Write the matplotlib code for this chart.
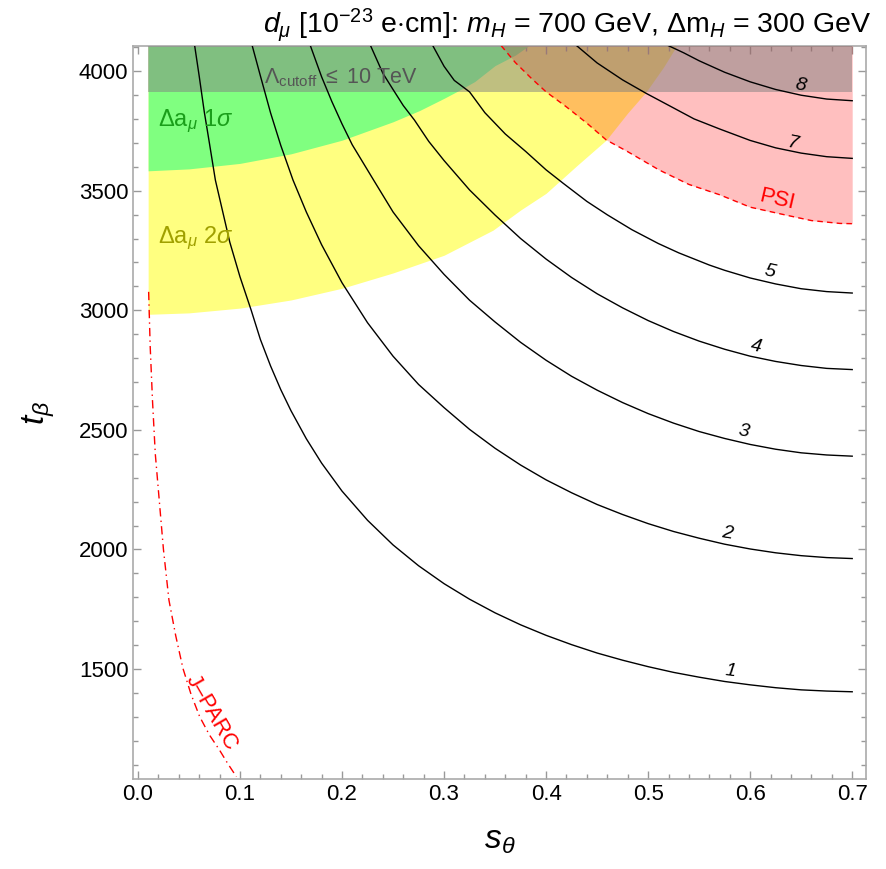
import matplotlib
matplotlib.use("Agg")
import matplotlib.pyplot as plt
from matplotlib.ticker import MultipleLocator

plt.rcParams['font.family'] = ['Liberation Sans', 'DejaVu Sans']
plt.rcParams['mathtext.fontset'] = 'custom'
plt.rcParams['mathtext.rm'] = 'Liberation Sans'
plt.rcParams['mathtext.it'] = 'Liberation Sans:italic'
plt.rcParams['mathtext.bf'] = 'Liberation Sans:bold'

# contour lines of d_mu: s_theta / t_beta
c1_s = [0.0556, 0.06, 0.065, 0.07, 0.0759, 0.082, 0.09, 0.10, 0.111, 0.12, 0.13, 0.14, 0.15, 0.165,
        0.18, 0.20, 0.225, 0.25, 0.275, 0.30, 0.325, 0.35, 0.375, 0.40, 0.425, 0.45, 0.475, 0.50,
        0.525, 0.55, 0.575, 0.60, 0.625, 0.65, 0.675, 0.70]
c1_t = [4106, 3980, 3830, 3700, 3544, 3432, 3285, 3140, 3000, 2878, 2767, 2668, 2580, 2463,
        2361, 2244, 2122, 2019, 1932, 1857, 1792, 1735, 1685, 1641, 1602, 1567, 1537, 1510,
        1486, 1466, 1448, 1434, 1422, 1413, 1408, 1405]
c2_s = [0.112, 0.12, 0.13, 0.14, 0.152, 0.165, 0.18, 0.20, 0.225, 0.25, 0.275, 0.30, 0.325, 0.35,
        0.375, 0.40, 0.425, 0.45, 0.475, 0.50, 0.525, 0.55, 0.575, 0.60, 0.625, 0.65, 0.675, 0.70]
c2_t = [4106, 3980, 3825, 3689, 3544, 3411, 3274, 3115, 2948, 2808, 2690, 2593, 2502, 2423,
        2353, 2291, 2237, 2188, 2146, 2108, 2075, 2047, 2022, 2002, 1986, 1974, 1966, 1962]
c3_s = [0.169, 0.18, 0.19, 0.20, 0.21, 0.231, 0.25, 0.275, 0.30, 0.325, 0.35, 0.375, 0.40, 0.425,
        0.45, 0.475, 0.50, 0.525, 0.55, 0.575, 0.60, 0.625, 0.65, 0.675, 0.70]
c3_t = [4106, 3976, 3873, 3779, 3692, 3544, 3411, 3270, 3150, 3042, 2951, 2866, 2791, 2724,
        2666, 2614, 2568, 2528, 2493, 2464, 2439, 2419, 2404, 2395, 2390]
c4_s = [0.228, 0.24, 0.25, 0.26, 0.271, 0.285, 0.30, 0.325, 0.35, 0.375, 0.40, 0.425, 0.45, 0.475,
        0.50, 0.525, 0.55, 0.575, 0.60, 0.625, 0.65, 0.675, 0.70]
c4_t = [4106, 3991, 3923, 3856, 3795, 3706, 3626, 3503, 3398, 3300, 3214, 3137, 3069, 3010,
        2957, 2911, 2871, 2837, 2808, 2786, 2769, 2757, 2752]
c5_s = [0.289, 0.30, 0.31, 0.325, 0.34, 0.36, 0.38, 0.40, 0.4167, 0.44, 0.46, 0.484, 0.51, 0.53,
        0.56, 0.575, 0.60, 0.625, 0.65, 0.675, 0.70]
c5_t = [4106, 4020, 3961, 3913, 3826, 3737, 3664, 3587, 3531, 3455, 3399, 3337, 3279, 3240,
        3189, 3167, 3135, 3110, 3090, 3078, 3072]
c7_s = [0.430, 0.45, 0.475, 0.498, 0.52, 0.545, 0.57, 0.60, 0.625, 0.65, 0.675, 0.70]
c7_t = [4106, 4034, 3963, 3907, 3857, 3800, 3758, 3710, 3679, 3657, 3642, 3635]
c8_s = [0.520, 0.535, 0.55, 0.575, 0.60, 0.625, 0.65, 0.675, 0.70]
c8_t = [4106, 4076, 4043, 3995, 3955, 3923, 3899, 3883, 3876]

# PSI sensitivity (d_mu = 6) and J-PARC
psi_s = [0.356, 0.37, 0.385, 0.40, 0.42, 0.44, 0.459, 0.48, 0.511, 0.54, 0.57, 0.60, 0.636,
         0.66, 0.688, 0.70]
psi_t = [4106, 4035, 3972, 3913, 3850, 3782, 3712, 3663, 3586, 3526, 3483, 3431, 3397,
         3375, 3363, 3362]
jparc_s = [0.0105, 0.012, 0.0143, 0.017, 0.021, 0.025, 0.0304, 0.037, 0.0441, 0.052, 0.0605,
           0.070, 0.080, 0.088, 0.0965]
jparc_t = [3077, 2850, 2620, 2400, 2200, 2000, 1788, 1640, 1503, 1395, 1301, 1225, 1161,
           1105, 1050]

# Delta a_mu bands (lower edges) and cutoff
sig2_s = [0.01, 0.05, 0.10, 0.15, 0.20, 0.25, 0.30, 0.348, 0.375, 0.40, 0.43, 0.459, 0.48,
          0.498, 0.515, 0.528]
sig2_t = [2983, 2989, 3009, 3043, 3092, 3156, 3230, 3335, 3419, 3489, 3604, 3712, 3825,
          3913, 4016, 4106]
sig1_s = [0.01, 0.05, 0.10, 0.15, 0.20, 0.25, 0.276, 0.30, 0.312, 0.33, 0.35, 0.37, 0.383]
sig1_t = [3583, 3591, 3614, 3654, 3711, 3788, 3835, 3886, 3913, 3956, 4023, 4067, 4106]
cutoff_t = 3913
s_range = [0.01, 0.70]

contours = [(c1_s, c1_t), (c2_s, c2_t), (c3_s, c3_t), (c4_s, c4_t),
            (c5_s, c5_t), (c7_s, c7_t), (c8_s, c8_t)]
lab_txt = ['1', '2', '3', '4', '5', '7', '8']
lab_s = [0.581, 0.577, 0.594, 0.606, 0.619, 0.642, 0.649]
lab_t = [1492, 2068, 2493, 2847, 3161, 3698, 3941]
lab_rot = [-7, -9, -10, -11, -12, -11, -10]

fig = plt.figure(figsize=(8.86, 8.69), dpi=100)
ax = fig.add_axes([0.1505, 0.1032, 0.8269, 0.8442])
xlo, xhi = -0.0045, 0.7135
ylo, yhi = 1039, 4106
ax.set_xlim(xlo, xhi)
ax.set_ylim(ylo, yhi)

ax.fill_between(sig2_s, sig2_t, yhi, color='#ffff80', lw=0, zorder=1)
ax.fill_between(sig1_s, sig1_t, yhi, color='#80ff80', lw=0, zorder=2)
ax.fill_between(psi_s, psi_t, yhi, color='red', alpha=0.25, lw=0, zorder=3)
ax.fill_between(s_range, cutoff_t, yhi, color='gray', alpha=0.5, lw=0, zorder=4)

for cs, ct in contours:
    ax.plot(cs, ct, color='black', lw=1.0, zorder=5)
ax.plot(psi_s, psi_t, color='red', lw=1.0, ls=(0, (4, 3)), zorder=5)
ax.plot(jparc_s, jparc_t, color='red', lw=1.0, ls=(0, (6, 3, 1, 3)), zorder=5)

for txt, xs, yt, r in zip(lab_txt, lab_s, lab_t, lab_rot):
    ax.text(xs, yt, txt, fontsize=14, style='italic', ha='center', va='center',
            rotation=r, zorder=6)

ax.text(0.626, 3461, 'PSI', color='red', fontsize=16, ha='center', va='center',
        rotation=-13, zorder=6)
ax.text(0.072, 1320, 'J\u2013PARC', color='red', fontsize=16, ha='center',
        va='center', rotation=-60, zorder=6)
ax.text(0.0196, 3788, r'$\Delta$a$_\mu$ 1$\sigma$', color='#1a9e1a', fontsize=17,
        ha='left', va='center', zorder=6)
ax.text(0.0196, 3302, r'$\Delta$a$_\mu$ 2$\sigma$', color='#a0a000', fontsize=17,
        ha='left', va='center', zorder=6)
ax.text(0.124, 3971, r'$\Lambda_{\rm cutoff}$ $\leq$ 10 TeV', color='#555555',
        fontsize=15.5, ha='left', va='center', zorder=6)

ax.xaxis.set_major_locator(MultipleLocator(0.1))
ax.xaxis.set_minor_locator(MultipleLocator(0.02))
ax.yaxis.set_major_locator(MultipleLocator(500))
ax.yaxis.set_minor_locator(MultipleLocator(100))
ax.tick_params(which='both', direction='in', top=True, right=True, color='#999999',
               labelsize=16, width=1)
ax.tick_params(which='major', length=6)
ax.tick_params(which='minor', length=3.5)
for sp in ax.spines.values():
    sp.set_color('#aaaaaa')
    sp.set_linewidth(1.2)

ax.set_xlabel(r'$\mathbf{\mathit{s}}_\theta$', fontsize=24, labelpad=14)
ax.set_ylabel(r'$\mathbf{\mathit{t}}_\beta$', fontsize=24, labelpad=16, rotation=90)
fig.text(0.64, 0.962, r'$d_\mu$ [10$^{-23}$ e$\cdot$cm]: $m_H$ = 700 GeV, $\Delta$m$_H$ = 300 GeV',
         fontsize=20.5, ha='center', va='baseline')

fig.savefig('out.png', dpi=100)
